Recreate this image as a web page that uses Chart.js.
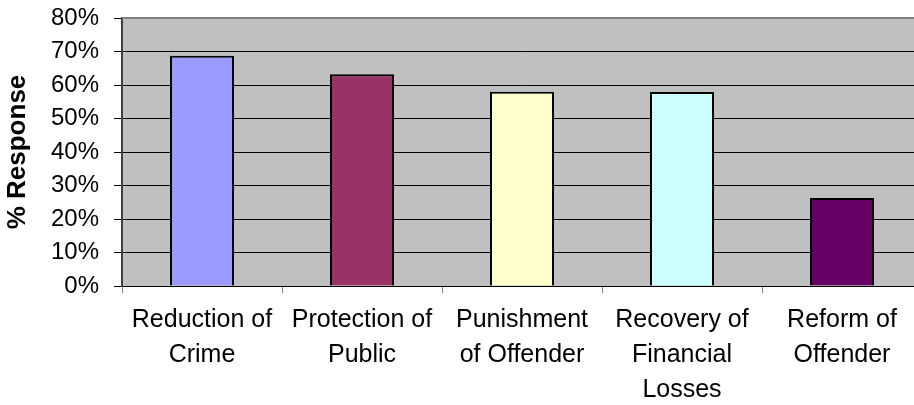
<!DOCTYPE html>
<html>
<head>
<meta charset="utf-8">
<script src="https://cdn.jsdelivr.net/npm/chart.js@4"></script>
<style>
  html, body { margin: 0; padding: 0; background: #fff; overflow: hidden; }
  #wrap { width: 922px; height: 405px; position: relative; }
</style>
</head>
<body>
<div id="wrap"><canvas id="myChart"></canvas></div>
<script>
// Les categories et les valeurs
const categories = [
    ["Reduction of", "Crime"],
    ["Protection of", "Public"],
    ["Punishment", "of Offender"],
    ["Recovery of", "Financial", "Losses"],
    ["Reform of", "Offender"]
]
const responses = [68.7, 63.2, 58.0, 57.9, 26.3]
const barColors = ["#9999FF", "#993366", "#FFFFCC", "#CCFFFF", "#660066"]
const yTicks = [0, 10, 20, 30, 40, 50, 60, 70, 80]

// Fond gris de la zone du graphique + bordure du haut
const plotBackground = {
    id: "plotBackground",
    beforeDraw(chart) {
        const { ctx, chartArea } = chart
        ctx.save()
        ctx.fillStyle = "#C0C0C0"
        ctx.fillRect(chartArea.left, chartArea.top, chartArea.right - chartArea.left, chartArea.bottom - chartArea.top)
        ctx.restore()
    },
    afterDraw(chart) {
        const { ctx, chartArea } = chart
        ctx.save()
        ctx.strokeStyle = "#808080"
        ctx.lineWidth = 2
        ctx.beginPath()
        ctx.moveTo(chartArea.left, chartArea.top)
        ctx.lineTo(chartArea.right, chartArea.top)
        ctx.stroke()
        ctx.restore()
    }
}

const graph = document.getElementById("myChart")
// eslint-disable-next-line no-undef
new Chart(graph, {
    type: "bar",
    data: {
        labels: categories,
        datasets: [{
            data: responses,
            backgroundColor: barColors,
            borderColor: "#000000",
            borderWidth: 2,
            categoryPercentage: 1,
            barPercentage: 0.4
        }]
    },
    options: {
        responsive: true,
        maintainAspectRatio: false,
        animation: false,
        layout: { padding: { top: 18, right: 0, left: 0, bottom: 0 } },
        plugins: {
            legend: { display: false },
            tooltip: { enabled: false }
        },
        scales: {
            x: {
                offset: true,
                border: { color: "#000000", width: 1 },
                grid: {
                    offset: true,
                    drawOnChartArea: false,
                    color: "#808080",
                    tickLength: 7
                },
                ticks: {
                    color: "#000000",
                    maxRotation: 0,
                    autoSkip: false,
                    padding: 10,
                    font: { family: "Liberation Sans", size: 25, lineHeight: 1.4 }
                },
                afterFit(axis) {
                    axis.height = 119
                    axis.paddingLeft = 0
                    axis.paddingRight = 0
                }
            },
            y: {
                min: 0,
                max: 80,
                afterBuildTicks(axis) { axis.ticks = yTicks.map(v => ({ value: v })) },
                border: { color: "#404040", width: 2 },
                grid: {
                    color: ctx => ctx.tick && ctx.tick.value === 80 ? "rgba(0,0,0,0)" : "#000000",
                    lineWidth: 1,
                    tickLength: 8,
                    tickColor: "#000000"
                },
                ticks: {
                    color: "#000000",
                    padding: 15,
                    font: { family: "Liberation Sans", size: 24 },
                    callback: v => v + "%"
                },
                title: {
                    display: true,
                    text: "% Response",
                    color: "#000000",
                    padding: { top: 2, bottom: 0 },
                    font: { family: "Liberation Sans", size: 26, weight: "bold" }
                },
                afterFit(axis) {
                    axis.width = 122
                    axis.paddingTop = 0
                    axis.paddingBottom = 0
                }
            }
        }
    },
    plugins: [plotBackground]
})
</script>
</body>
</html>
